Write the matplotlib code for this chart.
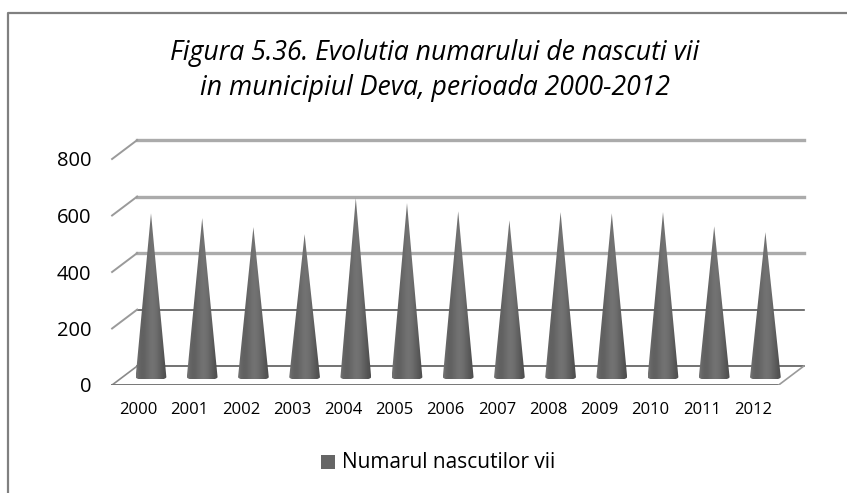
import numpy as np
import matplotlib
matplotlib.use('Agg')
import matplotlib.pyplot as plt
from matplotlib.patches import Polygon, Rectangle

plt.rcParams['font.family'] = ['Open Sans', 'DejaVu Sans']

years = ['2000', '2001', '2002', '2003', '2004', '2005', '2006',
         '2007', '2008', '2009', '2010', '2011', '2012']
nascuti = [580, 563, 531, 506, 634, 616, 587, 555, 584, 580, 584, 534, 513]
grid_values = [0, 200, 400, 600, 800]

W, H = 847, 493
px_per_cat = 51.2
px_per_val = 0.2825
front = -28      # value offset of the front edge of the floor
back = 39        # value offset of the back wall
depth = 0.49     # categories, sideways shift between front and back

fig = plt.figure(figsize=(W / 100, H / 100), dpi=100, facecolor='white')
left, right, top, bottom = 60, 830, 125, 385
ax = fig.add_axes([left / W, 1 - bottom / H, (right - left) / W, (bottom - top) / H])
xlim = ((left - 151) / px_per_cat, (right - 151) / px_per_cat)
ylim = (front, front + (bottom - top) / px_per_val)
for s in ax.spines.values():
    s.set_visible(False)

x0 = -0.76
x1 = 12.75

# walls and floor
for v in grid_values:
    col = '#5a5a5a' if v < 400 else '#ababab'
    lw = 1.2 if v < 400 else 2.4
    ax.plot([x0 + depth, x1], [v + back, v + back], color=col, lw=lw, zorder=1)
    if v > 0:
        ax.plot([x0, x0 + depth], [v + front, v + back], color='#9a9a9a', lw=1.4, zorder=1)
ax.plot([x0, x0 + depth], [front, back], color='#8a8a8a', lw=1.2, zorder=1)
ax.plot([x0, x1 - depth], [front, front], color='#777777', lw=1.4, zorder=1)
ax.plot([x1 - depth, x1], [front, back], color='#9a9a9a', lw=1.2, zorder=1)

# cones with a sideways gradient
shade = np.array([[0.44, 0.40, 0.38, 0.38, 0.40, 0.42, 0.44, 0.45, 0.44, 0.42,
                   0.39, 0.36, 0.33, 0.31]])
half = 0.30
for i, val in enumerate(nascuti):
    im = ax.imshow(shade, cmap='gray', vmin=0, vmax=1, aspect='auto', interpolation='bilinear',
                   extent=(i - half, i + half, -8, val), zorder=3)
    ang = np.linspace(np.pi, 2 * np.pi, 20)
    rim = [(i + half * np.cos(a), 12 * np.sin(a)) for a in ang]
    cone = Polygon([(i, val)] + rim, closed=True, transform=ax.transData,
                   facecolor='none', edgecolor='none')
    ax.add_patch(cone)
    im.set_clip_path(cone)

ax.set_xlim(xlim)
ax.set_ylim(ylim)

ax.set_yticks([v + front for v in grid_values])
ax.set_yticklabels([str(v) for v in grid_values], fontsize=14.5, color='black')
# the year labels sit under the front edge of the floor, not under the cones
ax.set_xticks([i - depth / 2 for i in range(len(years))])
ax.set_xticklabels(years, fontsize=12, color='black')
ax.tick_params(axis='both', length=0)
ax.tick_params(axis='x', pad=12)
ax.tick_params(axis='y', pad=-22.4)

fig.text(435 / W, 1 - 60 / H, 'Figura 5.36. Evolutia numarului de nascuti vii',
         fontsize=19.2, style='italic', ha='center', va='baseline')
fig.text(435 / W, 1 - 95 / H, 'in municipiul Deva, perioada 2000-2012',
         fontsize=19.2, style='italic', ha='center', va='baseline')

# legend
fig.add_artist(Rectangle((321 / W, 1 - 469 / H), 14 / W, 14 / H, transform=fig.transFigure,
                         facecolor='#666666', edgecolor='none'))
fig.text(342 / W, 1 - 468 / H, 'Numarul nascutilor vii', fontsize=15, ha='left', va='baseline')

# outer frame, open on the right
fig.add_artist(plt.Line2D([8 / W, 8 / W, 1], [0, 1 - 13 / H, 1 - 13 / H],
                          transform=fig.transFigure, color='#808080', lw=1.6))

fig.savefig('out.png', dpi=100, facecolor='white')
